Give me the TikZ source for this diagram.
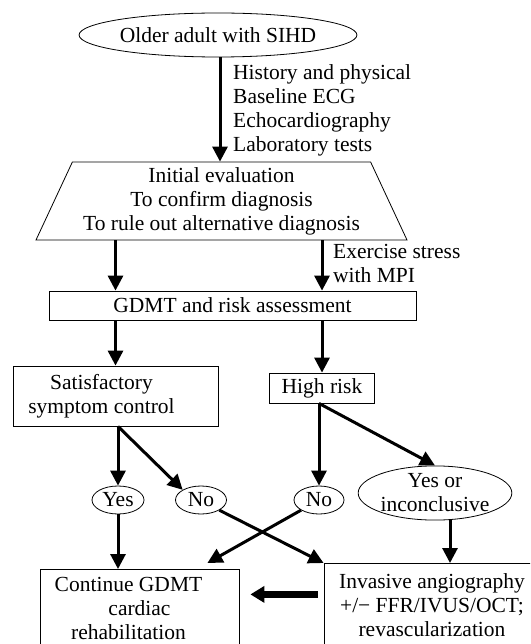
\documentclass[tikz,border=0pt]{standalone}
\usepackage{fontspec}
\setmainfont{Liberation Serif}
\usetikzlibrary{arrows.meta,positioning,shapes.geometric}

\begin{document}
\begin{tikzpicture}[
      x=1pt, y=-1pt,
      font=\fontsize{21.5}{24}\selectfont,
      box/.style={draw, line width=0.8pt, align=center, inner sep=0pt},
      oval/.style={draw, ellipse, line width=0.8pt, inner sep=0pt, align=center},
      note/.style={align=left, inner sep=0pt, anchor=west},
      flow/.style={-{Triangle[length=15pt,width=15pt]}, line width=3pt},
      bigflow/.style={-{Triangle[length=14pt,width=16pt]}, line width=7pt}
    ]
    \useasboundingbox (0,0) rectangle (530,644);
    \clip (0,0) rectangle (530,644);
    % top part
    \node[oval, minimum width=203pt, minimum height=44pt] (start) at (218,35) {Older adult with SIHD};
    \node[box, trapezium, trapezium left angle=61.7, trapezium right angle=61.7,
      trapezium stretches body, minimum width=371pt, minimum height=78pt] (eval) at (221.5,201)
      {Initial evaluation\\To confirm diagnosis\\To rule out alternative diagnosis};
    \node[box, minimum width=367pt, minimum height=29pt] (gdmt) at (232.5,305.5) {GDMT and risk assessment};
    \node[note] (workup) at (233,110) {History and physical\\Baseline ECG\\Echocardiography\\Laboratory tests};
    \node[note] (stress) at (333,263.5) {Exercise stress\\with MPI};
    % decisions
    \node[box, minimum width=205pt, minimum height=60pt] (satis) at (115.5,396)
      {Satisfactory\hspace*{28pt}\\symptom control\hspace*{28pt}};
    \node[box, minimum width=105pt, minimum height=30pt] (high) at (322,388) {High risk};
    \node[oval, minimum width=52pt, minimum height=28pt] (yes) at (118,500) {Yes};
    \node[oval, minimum width=51pt, minimum height=28pt] (no1) at (201,500) {No};
    \node[oval, minimum width=50pt, minimum height=28pt] (no2) at (319,500) {No};
    \node[oval, minimum width=134pt, minimum height=44pt] (yesinc) at (435,493) {Yes or\\inconclusive};
    % outcomes
    \node[box, anchor=north, minimum width=199pt, minimum height=78pt] (cont) at (139.5,569)
      {Continue GDMT\hspace*{22pt}\\cardiac\hspace*{22pt}\\rehabilitation\hspace*{22pt}};
    \node[box, anchor=north, minimum width=216pt, minimum height=84pt] (inv) at (432,563)
      {Invasive angiography\\+/\textminus{} FFR/IVUS/OCT;\\revascularization};
    % arrows
    \draw[flow] ([xshift=2pt]start.south) -- ([xshift=2pt]start.south |- eval.north);
    \draw[flow] (eval.south -| satis) -- (gdmt.north -| satis);
    \draw[flow] (eval.south -| high) -- (gdmt.north -| high);
    \draw[flow] (gdmt.south -| satis) -- (satis.north);
    \draw[flow] (gdmt.south -| high) -- (high.north);
    \draw[flow] (satis.south -| yes) -- (yes.north);
    \draw[flow] (satis.south -| yes) -- (no1.north west);
    \draw[flow] (high.south -| no2) -- (no2.north);
    \draw[flow] (high.south -| no2) -- (yesinc.north);
    \draw[flow] (yes.south) -- (yes.south |- cont.north);
    \draw[flow] (no1.south east) -- (inv.north west);
    \draw[flow] (no2.south west) -- ([xshift=-32pt,yshift=6pt]cont.north east);
    \draw[flow] ([xshift=15pt]yesinc.south) -- ([xshift=15pt]yesinc.south |- inv.north);
    \coordinate (bar) at ([xshift=-6pt,yshift=11pt]inv.west);
    \draw[bigflow, shorten >=11pt] (bar) -- (bar -| cont.east);
  \end{tikzpicture}
\end{document}
